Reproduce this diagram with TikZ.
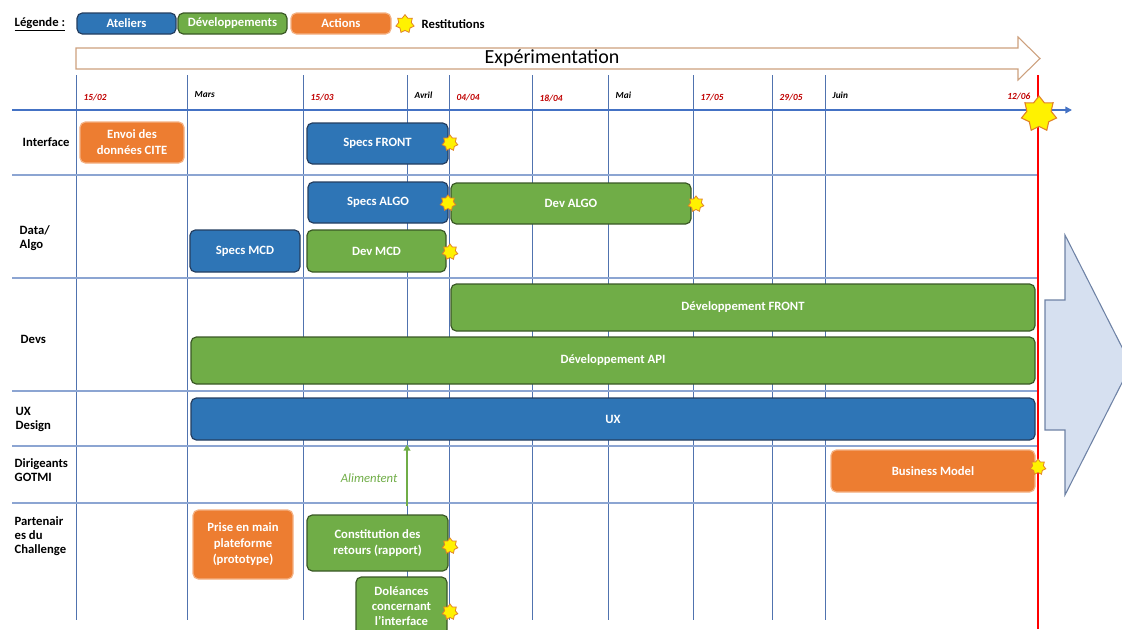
\documentclass[tikz,border=0pt]{standalone}
\usepackage{fontspec}
\setmainfont{Carlito}
\usetikzlibrary{positioning,shapes.geometric,arrows.meta}
\definecolor{blueF}{RGB}{46,117,182}
\definecolor{blueB}{RGB}{36,62,96}
\definecolor{greenF}{RGB}{112,173,71}
\definecolor{greenB}{RGB}{58,88,38}
\definecolor{orangeF}{RGB}{237,125,49}
\definecolor{orangeB}{RGB}{244,177,131}
\definecolor{gridV}{RGB}{80,115,175}
\definecolor{gridH}{RGB}{140,165,210}
\definecolor{axisB}{RGB}{68,114,196}
\definecolor{dateR}{RGB}{192,0,0}
\definecolor{tanB}{RGB}{205,160,125}
\definecolor{starB}{RGB}{225,130,40}
\definecolor{grosF}{RGB}{214,224,240}
\definecolor{grosB}{RGB}{110,130,165}

\begin{document}
\begin{tikzpicture}[x=0.75pt,y=-0.75pt,
  tache/.style={draw,rounded corners=4pt,inner sep=0pt,line width=0.9pt,text=white,align=center,
    font=\fontsize{9.5}{12}\selectfont\bfseries},
  wh/.style 2 args={minimum width=#1*0.75pt,minimum height=#2*0.75pt},
  atelier/.style={tache,fill=blueF,draw=blueB},
  devt/.style={tache,fill=greenF,draw=greenB},
  action/.style={tache,fill=orangeF,draw=orangeB},
  resti/.style={star,star points=7,star point ratio=1.45,draw=starB,fill=yellow,line width=0.6pt,
    inner sep=0pt,minimum size=12pt},
  rowlab/.style={anchor=west,align=left,font=\fontsize{9.5}{10.5}\selectfont\bfseries},
  datelab/.style={anchor=west,text=dateR,font=\fontsize{7}{8}\selectfont\bfseries\itshape},
  moislab/.style={datelab,text=black}]
\useasboundingbox (0,0) rectangle (1122,629);
% legend
\node[anchor=west,font=\fontsize{9.5}{11}\selectfont\bfseries] (leg) at (10,24) {\underline{Légende :}};
\node[atelier,wh={99}{21}] (legat) at (126.5,23.5) {Ateliers};
\node[devt,wh={109}{21}] (legdev) at (232.5,23.5) {Développements};
\node[action,wh={100}{21}] (legact) at (341,23.5) {Actions};
\node[resti,minimum size=14pt] (legres) at (405,24) {};
\node[anchor=west,font=\fontsize{9.5}{11}\selectfont\bfseries] (legrestxt) at (417,24) {Restitutions};
% experimentation arrow
\draw[tanB,fill=white,line width=0.8pt] (76,48) -- (1018,48) -- (1018,37) -- (1040,58.5)
  -- (1018,80) -- (1018,69) -- (76,69) -- cycle;
\node[font=\fontsize{15}{17}\selectfont] (exp) at (552,58.5) {Expérimentation};
% big arrow on the right
\draw[grosB,fill=grosF,line width=0.8pt] (1045,300) -- (1065,300) -- (1065,235) -- (1131,365)
  -- (1065,495) -- (1065,430) -- (1045,430) -- cycle;
% grid
\foreach \x in {76,187,303,407,449,532,608,693,772,825}
  \draw[gridV,line width=0.6pt] (\x,75) -- (\x,620);
\foreach \y in {175,278,391,446,503}
  \draw[gridH,line width=0.8pt] (12,\y) -- (1038,\y);
\draw[axisB,line width=1.2pt,-{Triangle[width=5pt,length=5pt]}] (12,110) -- (1072,110);
% dates
\foreach \x/\t in {76/{15/02},303/{15/03},449/{04/04},532/{18/04},693/{17/05},772/{29/05}}
  \node[datelab] at (\x+3,98) {\t};
\foreach \x/\t in {187/Mars,407/Avril,608/Mai,825/Juin}
  \node[moislab] at (\x+3,95) {\t};
\node[datelab,anchor=east] (fin) at (1035,97) {12/06};
% end line
\draw[red,line width=2.2pt] (1038,75) -- (1038,629);
% row labels
\node[rowlab] (rint) at (18,142) {Interface};
\node[rowlab] (rdata) at (15,238) {Data/\\Algo};
\node[rowlab] (rdevs) at (16,339) {Devs};
\node[rowlab] (rux) at (11,419) {UX\\Design};
\node[rowlab] (rdir) at (10,470) {Dirigeants\\GOTMI};
\node[rowlab] (rpart) at (10,536) {Partenair\\es du\\Challenge};
% tasks
\node[action,wh={104}{41}] (envoi) at (132,142.5) {Envoi des\\données CITE};
\node[atelier,wh={141}{41}] (specsfront) at (377.5,143.5) {Specs FRONT};
\node[atelier,wh={140}{41}] (specsalgo) at (378,202.5) {Specs ALGO};
\node[devt,wh={240}{41}] (devalgo) at (571,203.5) {Dev ALGO};
\node[atelier,wh={110}{42}] (specsmcd) at (245,251) {Specs MCD};
\node[devt,wh={139}{42}] (devmcd) at (376.5,251) {Dev MCD};
\node[devt,wh={584}{47}] (devfront) at (743,307.5) {Développement FRONT};
\node[devt,wh={844}{47}] (devapi) at (613,360.5) {Développement API};
\node[atelier,wh={844}{42}] (ux) at (613,419) {UX};
\node[action,wh={204}{42}] (bm) at (933,471) {Business Model};
\node[action,wh={100}{69}] (prise) at (243,544.5) {Prise en main\\plateforme\\(prototype)};
\node[devt,wh={141}{56}] (constit) at (377.5,543) {Constitution des\\retours (rapport)};
\node[devt,wh={91}{58},font=\fontsize{9.5}{11.2}\selectfont\bfseries] (dolean) at (401.5,606) {Doléances\\concernant\\l’interface};
% restitutions
\node[resti] (r1) at (450,143) {};
\node[resti] (r2) at (448,203) {};
\node[resti] (r3) at (696,204) {};
\node[resti] (r4) at (450,252) {};
\node[resti] (r5) at (1038,467) {};
\node[resti] (r6) at (450,546) {};
\node[resti] (r7) at (450,612) {};
\node[resti,minimum size=27pt,line width=0.8pt] (rfin) at (1039,114) {};
% feedback arrow
\coordinate (avril) at (407,0);
\draw[greenF,line width=1.6pt,-{Triangle[width=5pt,length=4.5pt]},shorten <=6pt,shorten >=3pt]
  (constit.north -| avril) -- (ux.south -| avril);
\node[anchor=east,text=greenF,font=\fontsize{9.5}{11}\selectfont\itshape] (alim) at (402,478) {Alimentent};
\end{tikzpicture}
\end{document}
